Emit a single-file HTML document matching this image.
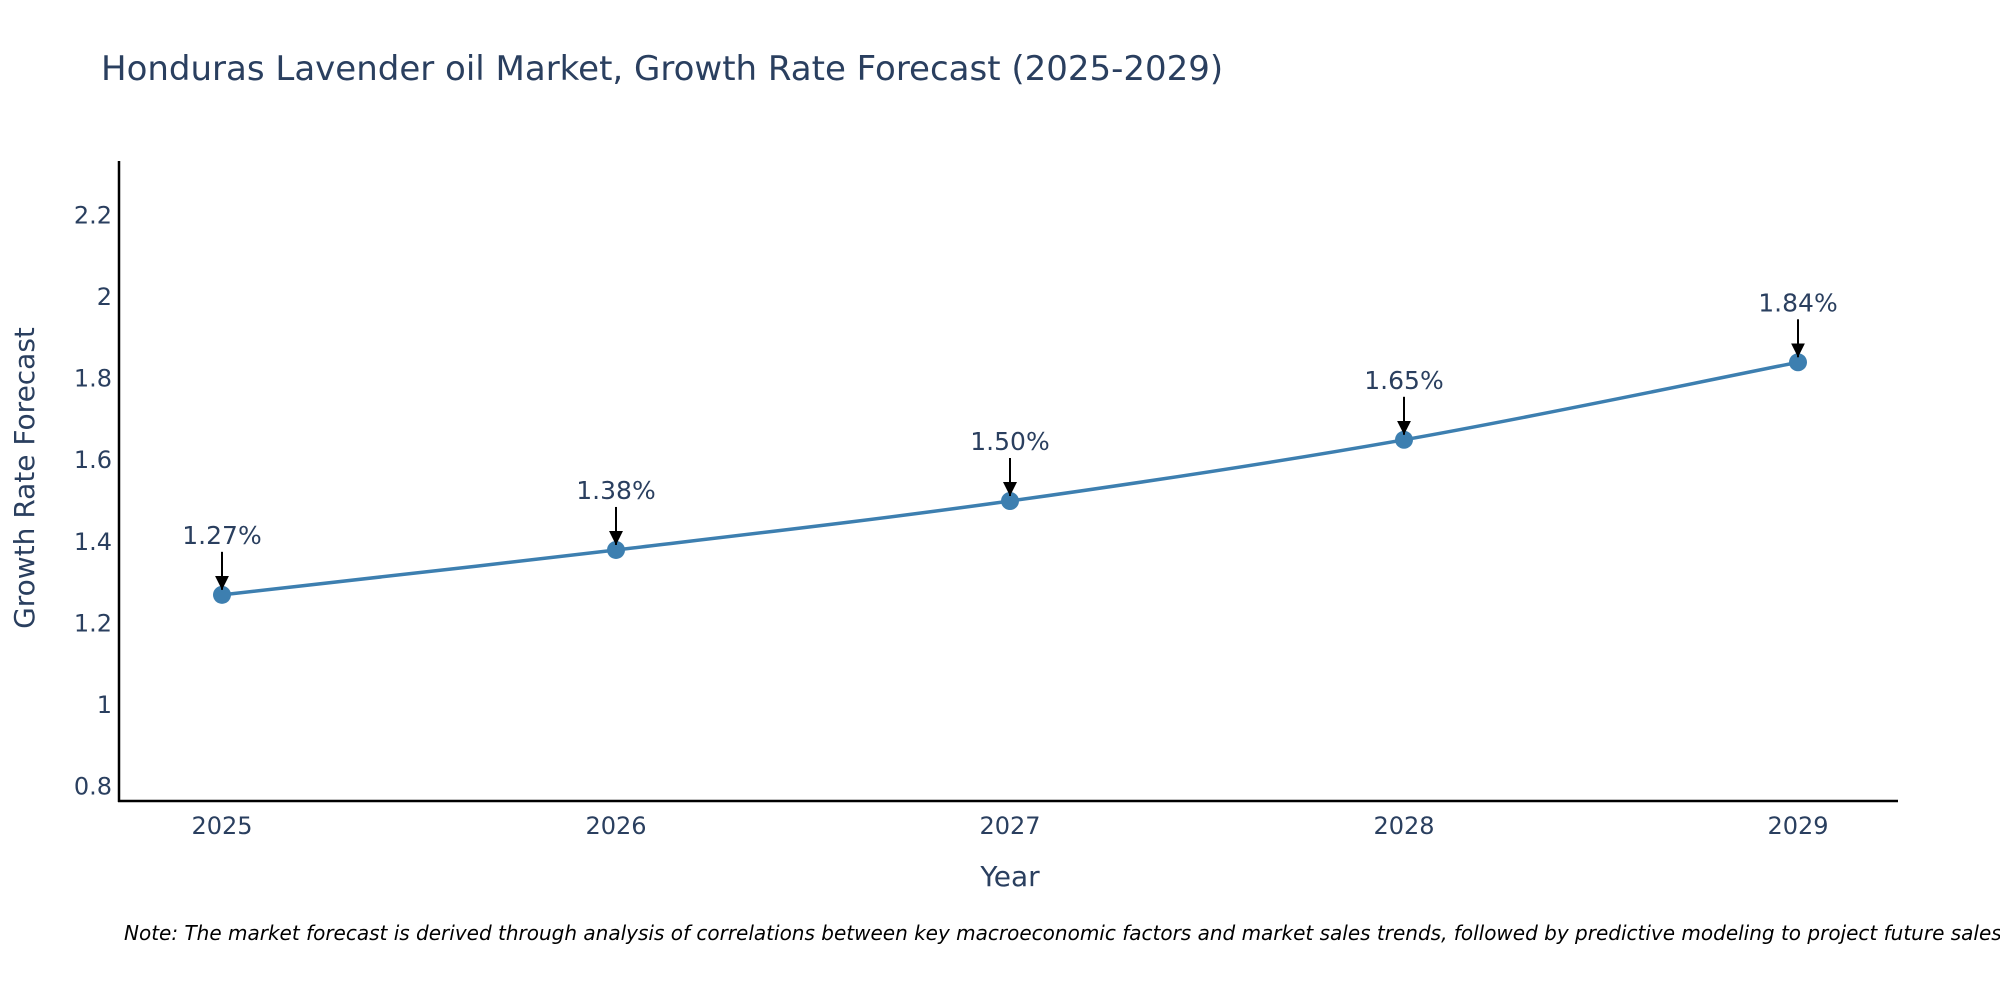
<!DOCTYPE html>
<html><head><meta charset="utf-8"><style>
body{margin:0;background:#fff;}
svg text{font-family:"DejaVu Sans","Liberation Sans",sans-serif;fill:#2a3f5f;}
</style></head><body>
<svg id="chart" width="2000" height="1000" viewBox="0 0 2000 1000">
<defs><marker id="ah" markerWidth="14" markerHeight="14" refX="14" refY="7" orient="auto" markerUnits="userSpaceOnUse" viewBox="0 0 14 14"><path d="M0,0 L14,7 L0,14 z" fill="#000"/></marker></defs>
<text x="101" y="80" font-size="34">Honduras Lavender oil Market, Growth Rate Forecast (2025-2029)</text>
<g id="yticks"></g><g id="xticks"></g>
<line x1="119" y1="161" x2="119" y2="802" stroke="#000" stroke-width="2.5"/>
<line x1="118" y1="801" x2="1898" y2="801" stroke="#000" stroke-width="2.5"/>
<g id="series"></g>
<text transform="translate(34,478) rotate(-90)" text-anchor="middle" font-size="28">Growth Rate Forecast</text>
<text x="1010" y="886" text-anchor="middle" font-size="28">Year</text>
<text x="124" y="940" font-size="20" font-style="italic" style="fill:#000">Note: The market forecast is derived through analysis of correlations between key macroeconomic factors and market sales trends, followed by predictive modeling to project future sales.</text>
</svg>
<script>
const years=[2025,2026,2027,2028,2029];
const values=[1.27,1.38,1.50,1.65,1.84];
const labels=["1.27%","1.38%","1.50%","1.65%","1.84%"];
const yTicks=[0.8,1,1.2,1.4,1.6,1.8,2,2.2];
const NS="http://www.w3.org/2000/svg";
const xs=y=>222+(y-2025)*(1798-222)/4;
const ys=v=>705-(v-1)/0.2*81.6;
function mk(tag,attrs,parent){const e=document.createElementNS(NS,tag);for(const k in attrs)e.setAttribute(k,attrs[k]);parent.appendChild(e);return e;}
const yt=document.getElementById('yticks');
yTicks.forEach(t=>{const e=mk('text',{x:112,y:ys(t)+8,'text-anchor':'end','font-size':24},yt);


e.textContent=String(t);});
const xt=document.getElementById('xticks');
years.forEach(y=>{const e=mk('text',{x:xs(y),y:834,'text-anchor':'middle','font-size':24},xt);


e.textContent=String(y);});
const s=document.getElementById('series');
const pts=years.map((y,i)=>[xs(y),ys(values[i])]);
let d='M'+pts[0][0]+','+pts[0][1];
for(let i=0;i<pts.length-1;i++){const p0=pts[Math.max(0,i-1)],p1=pts[i],p2=pts[i+1],p3=pts[Math.min(pts.length-1,i+2)];
const k=0.17;d+=' C'+(p1[0]+(p2[0]-p0[0])*k)+','+(p1[1]+(p2[1]-p0[1])*k)+' '+(p2[0]-(p3[0]-p1[0])*k)+','+(p2[1]-(p3[1]-p1[1])*k)+' '+p2[0]+','+p2[1];}
const pl=mk('path',{d:d,fill:'none',stroke:'#3d7fb0','stroke-width':3.5},s);


years.forEach((y,i)=>{const cx=xs(y),cy=ys(values[i]);
const c=mk('circle',{cx:cx,cy:cy,r:9,fill:'#3d7fb0'},s);


const a=mk('line',{x1:cx,y1:cy-43,x2:cx,y2:cy-5,stroke:'#000','stroke-width':2,'marker-end':'url(#ah)'},s);


const t=mk('text',{x:cx,y:cy-51,'text-anchor':'middle','font-size':25},s);


t.textContent=labels[i];});
</script>
</body></html>
